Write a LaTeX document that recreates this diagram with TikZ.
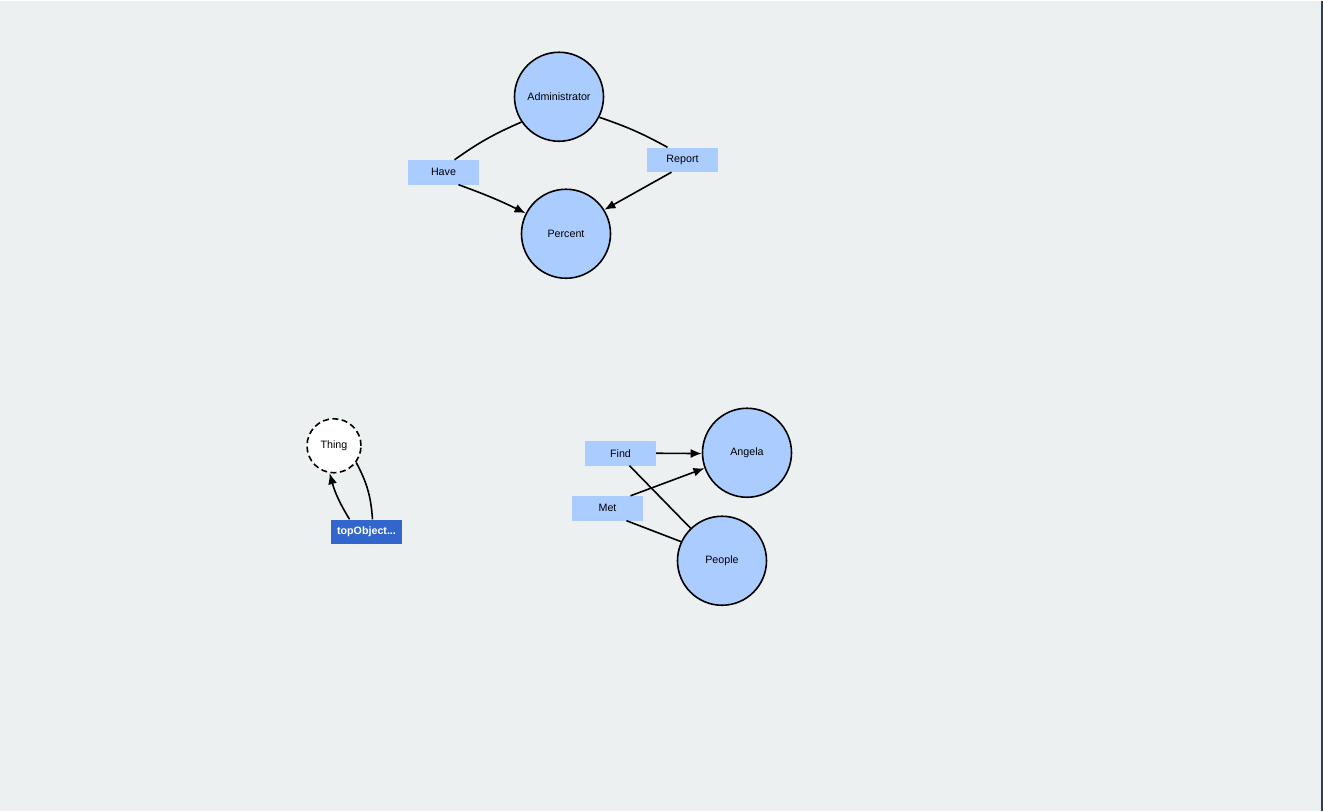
\documentclass[tikz,border=0pt]{standalone}
\usepackage{fontspec}
\setmainfont{Liberation Sans}
\usepackage{xcolor}
\usetikzlibrary{arrows.meta}
\definecolor{bgcol}{HTML}{ECF0F1}
\definecolor{nodecol}{HTML}{AACCFF}
\definecolor{topcol}{HTML}{3366CC}
\definecolor{edgecol}{HTML}{2C3E50}

\begin{document}
\begin{tikzpicture}[x=1pt,y=1pt,
    font=\fontsize{10.7}{12}\selectfont,
    concept/.style={circle, draw, line width=1.6pt, fill=nodecol, minimum size=89pt, inner sep=0pt},
    relbox/.style={rectangle, fill=nodecol, minimum width=71pt, minimum height=24.5pt, inner sep=0pt},
    link/.style={line width=1.6pt},
    arr/.style={link, -{Latex[length=11pt,width=9pt]}}]
      \fill[bgcol] (0,0) rectangle (1323,-810);
      \draw[edgecol, line width=1.5pt] (1322.2,0) -- (1322.2,-810);
      \useasboundingbox (0,0) rectangle (1323,-810);
      \node[concept] (Admin) at (559,-96) {Administrator};
      \node[concept] (Percent) at (566,-233) {Percent};
      \node[relbox] (Have) at (443.5,-171.5) {Have};
      \node[relbox] (Report) at (682.5,-159) {Report};
      \node[circle, draw, dash pattern=on 6pt off 3.5pt, line width=1.6pt, fill=white, minimum size=54pt, inner sep=0pt] (Thing) at (334,-445) {Thing};
      \node[relbox, fill=topcol, text=white, font=\fontsize{10.7}{12}\selectfont\bfseries] (Top) at (366.5,-531) {topObject...};
      \node[relbox] (Find) at (620.5,-452.5) {Find};
      \node[relbox] (Met) at (607.5,-507.5) {Met};
      \node[concept] (Angela) at (747,-452) {Angela};
      \node[concept] (People) at (722,-560) {People};
      \draw[link] (Admin.214) to[bend right=6] ([xshift=11pt]Have.north);
      \draw[arr] ([xshift=15pt]Have.south) to[bend left=3] (Percent.153);
      \draw[link] (Admin.333) to[bend left=5] ([xshift=-15pt]Report.north);
      \draw[arr] ([xshift=-11pt]Report.south) -- (Percent.32);
      \draw[link] (Thing.323) to[bend left=12] ([xshift=6pt]Top.north);
      \draw[arr] ([xshift=-17pt]Top.north) to[bend left=8] (Thing.261);
      \draw[link] (People.134) -- ([xshift=9pt]Find.south);
      \draw[arr] (Find.east) -- (Angela.181);
      \draw[link] (People.155) -- ([xshift=19pt]Met.south);
      \draw[arr] ([xshift=23pt]Met.north) -- (Angela.200);
\end{tikzpicture}
\end{document}
